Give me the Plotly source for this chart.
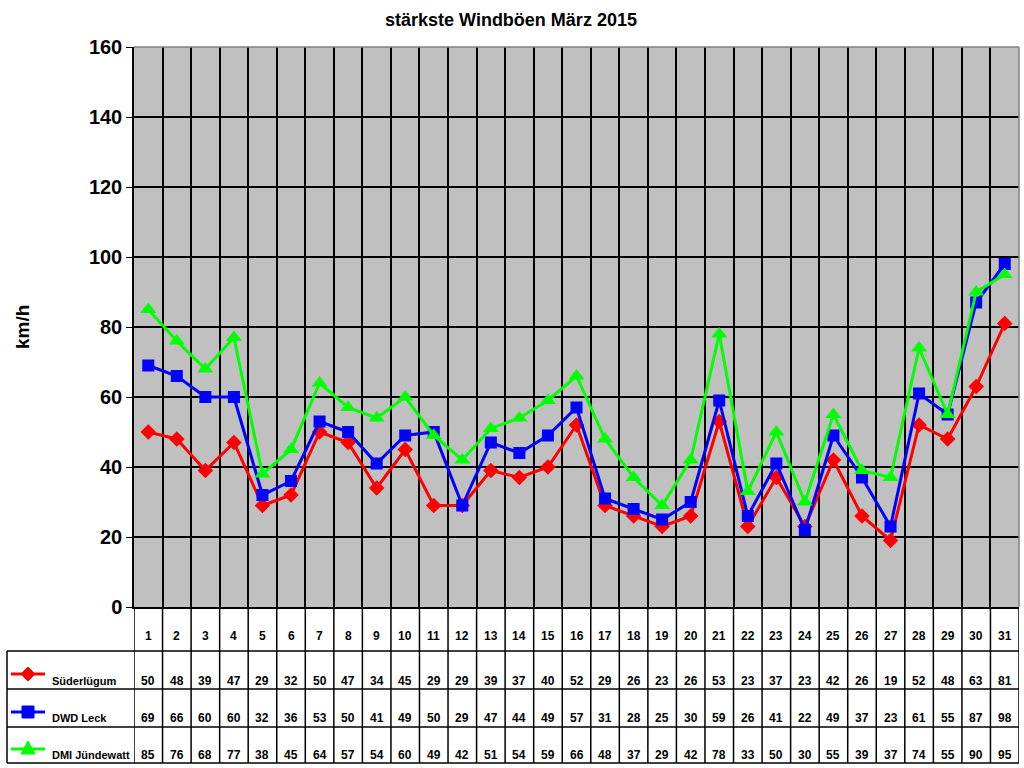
import plotly.graph_objects as go

# Tageswerte März 2015 (stärkste Böen, km/h)
days = list(range(1, 32))
suederluegum = [50, 48, 39, 47, 29, 32, 50, 47, 34, 45, 29, 29, 39, 37, 40, 52,
                29, 26, 23, 26, 53, 23, 37, 23, 42, 26, 19, 52, 48, 63, 81]
dwd_leck = [69, 66, 60, 60, 32, 36, 53, 50, 41, 49, 50, 29, 47, 44, 49, 57,
            31, 28, 25, 30, 59, 26, 41, 22, 49, 37, 23, 61, 55, 87, 98]
dmi_juendewatt = [85, 76, 68, 77, 38, 45, 64, 57, 54, 60, 49, 42, 51, 54, 59, 66,
                  48, 37, 29, 42, 78, 33, 50, 30, 55, 39, 37, 74, 55, 90, 95]
y_ticks = [0, 20, 40, 60, 80, 100, 120, 140, 160]

series = [
    ("Süderlügum", suederluegum, "#FF0000", "diamond", 12),
    ("DWD Leck", dwd_leck, "#0000FF", "square", 12),
    ("DMI Jündewatt", dmi_juendewatt, "#00FF00", "triangle-up", 14),
]

W, H = 1024, 768
L, R, T, B = 134, 1019, 47, 607
FONT = "Arial, Liberation Sans, sans-serif"


def px_x(px):
    return (px - L) / (R - L)


def px_y(py):
    return (B - py) / (B - T)


def bold(size):
    return dict(family=FONT, size=size, color="black", weight="bold")


fig = go.Figure()
for name, vals, col, sym, msize in series:
    fig.add_trace(go.Scatter(x=days, y=vals, mode="lines+markers", name=name,
                             line=dict(color=col, width=3),
                             marker=dict(color=col, symbol=sym, size=msize)))

shapes = []
bounds = [d - 0.5 for d in days] + [days[-1] + 0.5]
# senkrechte Tabellenlinien
for b in bounds:
    shapes.append(dict(type="line", xref="x", yref="paper", x0=b, x1=b,
                       y0=px_y(763), y1=0, line=dict(color="black", width=1.5)))
# waagerechte Tabellenlinien
for py in [651, 689, 727, 763]:
    shapes.append(dict(type="line", xref="paper", yref="paper", x0=px_x(7), x1=1,
                       y0=px_y(py), y1=px_y(py), line=dict(color="black", width=1.5)))
shapes.append(dict(type="line", xref="paper", yref="paper", x0=px_x(7), x1=px_x(7),
                   y0=px_y(651), y1=px_y(763), line=dict(color="black", width=1.5)))
# Rahmen oben/rechts
shapes.append(dict(type="line", xref="paper", yref="paper", x0=0, x1=1, y0=1, y1=1,
                   line=dict(color="#808080", width=1.5)))
shapes.append(dict(type="line", xref="paper", yref="paper", x0=1, x1=1, y0=0, y1=1,
                   line=dict(color="#808080", width=1.5)))

annotations = [
    dict(text="stärkste Windböen März 2015", xref="paper", yref="paper",
         x=px_x(511), y=px_y(20), xanchor="center", yanchor="middle",
         showarrow=False, font=bold(18)),
    dict(text="km/h", xref="paper", yref="paper", x=px_x(22), y=px_y(327),
         xanchor="center", yanchor="middle", textangle=-90,
         showarrow=False, font=bold(19)),
]
for d in days:
    annotations.append(dict(text=str(d), xref="x", yref="paper", x=d, y=px_y(636),
                            xanchor="center", yanchor="middle",
                            showarrow=False, font=bold(12)))

row_y = [681, 718, 755]
sym_y = [674, 712, 749]
markers = {
    "diamond": "M 0 7 L 7 0 L 0 -7 L -7 0 Z",
    "square": "M -6 -6 L 6 -6 L 6 6 L -6 6 Z",
    "triangle-up": "M 0 8 L 7 -5 L -7 -5 Z",
}
for (name, vals, col, sym, msize), ry, sy in zip(series, row_y, sym_y):
    annotations.append(dict(text=name, xref="paper", yref="paper", x=px_x(50), y=px_y(ry),
                            xanchor="left", yanchor="middle",
                            showarrow=False, font=bold(11)))
    for d, v in zip(days, vals):
        annotations.append(dict(text=str(v), xref="x", yref="paper", x=d, y=px_y(ry),
                                xanchor="center", yanchor="middle",
                                showarrow=False, font=bold(12)))
    shapes.append(dict(type="line", xref="paper", yref="paper", x0=px_x(11), x1=px_x(45),
                       y0=px_y(sy), y1=px_y(sy), line=dict(color=col, width=3)))
    shapes.append(dict(type="path", xref="paper", yref="paper", xsizemode="pixel",
                       ysizemode="pixel", xanchor=px_x(28), yanchor=px_y(sy),
                       path=markers[sym], fillcolor=col, line=dict(color=col, width=1)))

fig.update_layout(
    width=W, height=H,
    margin=dict(l=L, r=W - R, t=T, b=H - B, pad=0),
    paper_bgcolor="white", plot_bgcolor="#C0C0C0",
    showlegend=False,
    shapes=shapes, annotations=annotations,
    xaxis=dict(range=[0.5, 31.5], tickvals=bounds, showticklabels=False,
               showgrid=True, gridcolor="black", gridwidth=1.5,
               showline=True, linecolor="black", linewidth=1.5,
               zeroline=False, ticks=""),
    yaxis=dict(range=[0, 160], tickvals=y_ticks, showgrid=True, gridcolor="black",
               gridwidth=1.5, showline=True, linecolor="black", linewidth=1.5,
               zeroline=False, ticks="outside", ticklen=6, tickcolor="black",
               tickfont=bold(20)),
)

fig.write_html("out.html", config={"displayModeBar": False},
               post_script="document.body.style.margin='0';document.body.style.overflow='hidden';")
